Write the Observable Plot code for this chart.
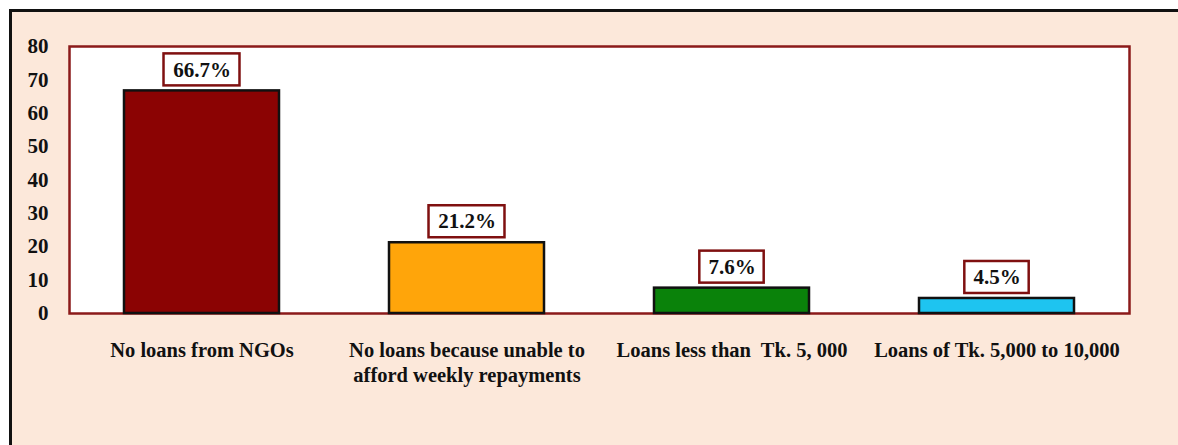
<!DOCTYPE html>
<html><head><meta charset="utf-8">
<script src="https://cdn.jsdelivr.net/npm/d3@7"></script>
<script src="https://cdn.jsdelivr.net/npm/@observablehq/plot@0.6"></script>
<style>
body{margin:0;background:#fff;}
#bg{position:absolute;left:9px;top:9px;width:1169px;height:436px;background:#FCE8DA;border-top:3px solid #111;border-left:3px solid #111;box-sizing:border-box;}
#chart{position:absolute;left:0;top:0;}
#chart svg{background:transparent;}
</style></head>
<body><div id="bg"></div><div id="chart"></div>
<script>
const categories = ["No loans from NGOs","No loans because unable to afford weekly repayments","Loans less than  Tk. 5, 000","Loans of Tk. 5,000 to 10,000"];
const tickLabels = ["No loans from NGOs","No loans because unable to\nafford weekly repayments","Loans less than  Tk. 5, 000","Loans of Tk. 5,000 to 10,000"];
const values = [66.7, 21.2, 7.6, 4.5];
const valueLabels = ["66.7%","21.2%","7.6%","4.5%"];
const colors = ["#8B0303","#FFA50A","#0A820A","#1EC4F0"];
const yTicks = [0,10,20,30,40,50,60,70,80];

const data = categories.map((c,i)=>({cat:c, value:values[i], label:valueLabels[i], color:colors[i]}));
const font = "'Liberation Serif','Times New Roman',serif";

const W = 1178, H = 445, mT = 46, mB = 132, mL = 69, mR = 49;
const yMax = 80;
const padInner = 0.415;
const pxPerUnit = (H - mT - mB) / yMax;
const step = (W - mL - mR) / categories.length;
const bandwidth = step * (1 - padInner);

const boxMarks = data.map(d => {
  const w = d.label.length * 11.6 + 18;
  const inset = (bandwidth - w)/2;
  return Plot.barY([d], {x:"cat", y1: v => v.value + 5/pxPerUnit, y2: v => v.value + 37/pxPerUnit,
    fill:"white", stroke:"#7F1010", strokeWidth:2.5, insetLeft:inset, insetRight:inset});
});

const chart = Plot.plot({
  width:W, height:H,
  marginLeft:mL, marginRight:mR, marginTop:mT, marginBottom:mB,
  style:{fontFamily:font, fontWeight:"bold", fontSize:"21px", color:"#111", background:"transparent"},
  x:{domain:categories, paddingInner:padInner, paddingOuter:padInner/2, label:null},
  y:{domain:[0,yMax], label:null},
  marks:[
    Plot.frame({fill:"white", stroke:"#8B1A1A", strokeWidth:2.5}),
    Plot.barY(data, {x:"cat", y:"value", fill:"color", stroke:"#111", strokeWidth:2.5}),
    ...boxMarks,
    Plot.text(data, {x:"cat", y:"value", text:"label", dy:-21, fontSize:21, fontWeight:"bold", fill:"#111"}),
    Plot.axisY({ticks:yTicks, tickSize:0, tickPadding:21, label:null, fontSize:21, fontWeight:"bold"}),
    Plot.axisX({tickSize:0, tickPadding:26, label:null, tickFormat:(d)=>tickLabels[categories.indexOf(d)], fontSize:20.5, fontWeight:"bold", lineHeight:1.2})
  ]
});
document.getElementById("chart").append(chart);
</script></body></html>
